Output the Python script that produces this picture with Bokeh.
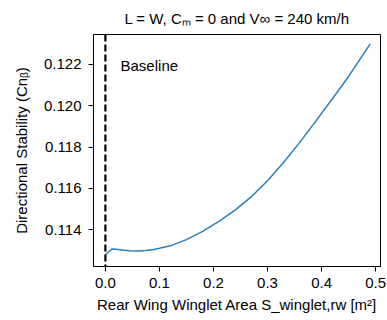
from bokeh.plotting import figure
from bokeh.models import Range1d, FixedTicker, PrintfTickFormatter, Label, Span
from bokeh.embed import file_html
from bokeh.resources import INLINE

# Data
area = [0.0, 0.012, 0.02, 0.03, 0.045, 0.06, 0.075, 0.09, 0.12, 0.15, 0.18,
        0.21, 0.24, 0.27, 0.30, 0.33, 0.36, 0.39, 0.42, 0.45, 0.49]
cn_beta = [0.11279, 0.11307, 0.11305, 0.11302, 0.11298, 0.11297, 0.11299,
           0.11304, 0.11322, 0.11352, 0.11392, 0.11440, 0.11495, 0.11560,
           0.11637, 0.11727, 0.11824, 0.11928, 0.12034, 0.12142, 0.12300]
x_ticks = [0.0, 0.1, 0.2, 0.3, 0.4, 0.5]
y_ticks = [0.114, 0.116, 0.118, 0.120, 0.122]
baseline_x = 0.0
title_text = "L = W, Cₘ = 0 and V∞ = 240 km/h"
x_label = "Rear Wing Winglet Area S_winglet,rw [m²]"
y_label = "Directional Stability (Cnᵦ)"

FONT = "Liberation Sans"

p = figure(width=387, height=320, output_backend="svg", toolbar_location=None,
           x_range=Range1d(-0.022, 0.509), y_range=Range1d(0.11222, 0.12345),
           title=title_text)
p.min_border_left = 93
p.min_border_right = 7
p.min_border_top = 33
p.min_border_bottom = 54

p.title.align = "center"
p.title.text_font = FONT
p.title.text_font_size = "15px"
p.title.text_font_style = "normal"
p.title.text_color = "black"
p.title.standoff = 15

p.grid.visible = False
p.outline_line_color = "black"
p.outline_line_width = 1

for ax in (p.xaxis[0], p.yaxis[0]):
    ax.axis_line_color = "black"
    ax.major_tick_line_color = "black"
    ax.major_tick_out = 5
    ax.major_tick_in = 0
    ax.minor_tick_line_color = None
    ax.major_label_text_font = FONT
    ax.major_label_text_font_size = "15px"
    ax.major_label_text_color = "black"
    ax.axis_label_text_font = FONT
    ax.axis_label_text_font_size = "15px"
    ax.axis_label_text_font_style = "normal"
    ax.axis_label_text_color = "black"

p.yaxis.major_label_standoff = 7
p.yaxis.axis_label_standoff = 11
p.xaxis.major_label_standoff = 6
p.xaxis.axis_label_standoff = 5

p.xaxis.ticker = FixedTicker(ticks=x_ticks)
p.yaxis.ticker = FixedTicker(ticks=y_ticks)
p.xaxis.formatter = PrintfTickFormatter(format="%.1f")
p.yaxis.formatter = PrintfTickFormatter(format="%.3f")
p.xaxis.axis_label = x_label
p.yaxis.axis_label = y_label

p.add_layout(Span(location=baseline_x, dimension="height", line_color="black",
                  line_width=2.2, line_dash="7 3"))
p.line(area, cn_beta, line_color="#2b7fbb", line_width=1.5,
       line_join="round")

p.add_layout(Label(x=0.028, y=0.12197, text="Baseline", text_font=FONT,
                   text_font_size="15px", text_baseline="middle",
                   text_color="black"))

open("out.html", "w").write(file_html(p, INLINE))
